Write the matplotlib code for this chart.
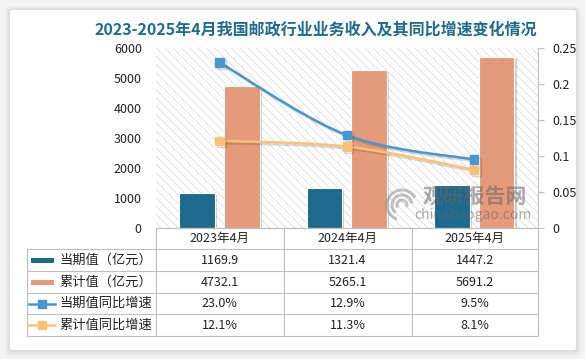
import matplotlib
matplotlib.use("Agg")
import matplotlib.pyplot as plt
import numpy as np
from matplotlib.transforms import Affine2D
from matplotlib.patches import Rectangle, FancyBboxPatch, Arc
from matplotlib.lines import Line2D
import matplotlib.patheffects as pe

plt.rcParams['font.family'] = ['Noto Sans CJK SC', 'DejaVu Sans']
plt.rcParams['hatch.linewidth'] = 0.6

# ---------------- data ----------------
categories = ["2023年4月", "2024年4月", "2025年4月"]
current_vals = [1169.9, 1321.4, 1447.2]
cumulative_vals = [4732.1, 5265.1, 5691.2]
current_yoy = [0.230, 0.129, 0.095]
cumulative_yoy = [0.121, 0.113, 0.081]
current_yoy_lbl = ["23.0%", "12.9%", "9.5%"]
cumulative_yoy_lbl = ["12.1%", "11.3%", "8.1%"]
series_names = ["当期值（亿元）", "累计值（亿元）", "当期值同比增速", "累计值同比增速"]
left_ticks = [0, 1000, 2000, 3000, 4000, 5000, 6000]
right_ticks = [0, 0.05, 0.1, 0.15, 0.2, 0.25]
right_tick_lbl = ["0", "0.05", "0.1", "0.15", "0.2", "0.25"]
title = "2023-2025年4月我国邮政行业业务收入及其同比增速变化情况"

C_BLUE = "#1C6A8E"
C_SALMON = "#E59A7A"
C_LBLUE = "#4896CF"
C_ORANGE = "#FFC077"
C_GRID = "#BFBFBF"
C_TEXT = "#222222"

W, H = 585, 359
fig = plt.figure(figsize=(W / 100, H / 100), dpi=100)
fig.patch.set_facecolor("#F3F3F3")
T = Affine2D().scale(1, -1).translate(0, H)  # pixel coords, origin top-left

# card with soft shadow
for i in range(8, 0, -1):
    fig.add_artist(FancyBboxPatch((10 - i * 0.6, 10 - i * 0.4), 566 + i * 1.2, 340 + i * 1.2,
                                  boxstyle="round,pad=0,rounding_size=3", transform=T,
                                  facecolor="black", alpha=0.012, lw=0, zorder=-10))
fig.add_artist(FancyBboxPatch((10, 10), 566, 340, boxstyle="round,pad=0,rounding_size=2",
                              transform=T, facecolor="white", lw=0, zorder=-9))

# title
fig.text(316, 29, title, transform=T, ha="center", va="center", fontsize=11.5,
         fontweight="bold", color="#1F6B8E")

# axes
L, R, TOP, BOT = 155.7, 538.0, 48.0, 228.0
ax = fig.add_axes([L / W, 1 - BOT / H, (R - L) / W, (BOT - TOP) / H])
ax.set_facecolor("none")
ax.add_patch(Rectangle((0, 0), 1, 1, transform=ax.transAxes, facecolor="white",
                       edgecolor="#DCDCDC", hatch="\\\\\\\\", lw=0, zorder=0))
x = np.arange(len(categories))
ax.set_xlim(-0.5, len(categories) - 0.5)
ax.set_ylim(0, 6000)
shadow = [pe.SimplePatchShadow(offset=(1.5, -1.5), shadow_rgbFace="#000000", alpha=0.18), pe.Normal()]
ax.bar(x - 0.175, current_vals, 0.28, color=C_BLUE, edgecolor="white", lw=0.8, zorder=2,
       path_effects=shadow)
ax.bar(x + 0.175, cumulative_vals, 0.28, color=C_SALMON, edgecolor="white", lw=0.8, zorder=2,
       path_effects=shadow)
ax.set_yticks(left_ticks)
ax.set_xticks([])
ax.tick_params(axis="y", length=0, pad=10, labelsize=9, labelcolor=C_TEXT)
for s in ["left", "top", "right"]:
    ax.spines[s].set_visible(False)
ax.spines["bottom"].set_color(C_GRID)
ax.spines["bottom"].set_linewidth(0.8)

ax2 = ax.twinx()
ax2.set_ylim(0, 0.25)
ax2.set_yticks(right_ticks)
ax2.set_yticklabels(right_tick_lbl)
ax2.tick_params(axis="y", length=4, width=0.8, color=C_GRID, pad=6, labelsize=9, labelcolor=C_TEXT)
for s in ["left", "top", "bottom"]:
    ax2.spines[s].set_visible(False)
ax2.spines["right"].set_color(C_GRID)
ax2.spines["right"].set_linewidth(0.8)


def smooth(xs, ys, sx, sy, n=40):
    # Catmull-Rom rendering of the polyline in pixel-proportional space
    P = np.column_stack([np.asarray(xs, float) * sx, np.asarray(ys, float) * sy])
    P = np.vstack([P[0], P, P[-1]])
    out = []
    for i in range(1, len(P) - 2):
        p0, p1, p2, p3 = P[i - 1], P[i], P[i + 1], P[i + 2]
        c1 = p1 + (p2 - p0) / 6
        c2 = p2 - (p3 - p1) / 6
        t = np.linspace(0, 1, n)[:, None]
        seg = (1 - t) ** 3 * p1 + 3 * (1 - t) ** 2 * t * c1 + 3 * (1 - t) * t ** 2 * c2 + t ** 3 * p2
        out.append(seg if i == 1 else seg[1:])
    out = np.vstack(out)
    return out[:, 0] / sx, out[:, 1] / sy


sx = (R - L) / 3.0
sy = (BOT - TOP) / 0.25
lshadow = [pe.SimpleLineShadow(offset=(1.5, -1.5), alpha=0.15), pe.Normal()]
for vals, col in [(current_yoy, C_LBLUE), (cumulative_yoy, C_ORANGE)]:
    xs, ys = smooth(x, vals, sx, sy)
    ax2.plot(xs, ys, color=col, lw=1.8, zorder=3, path_effects=lshadow, solid_capstyle="round")
    ax2.plot(x, vals, "s", ms=6, color=col, zorder=4, path_effects=lshadow)

# watermark
fig.text(423, 196, "观研报告网", transform=T, ha="left", va="center", fontsize=15,
         fontweight="bold", color="#666666", alpha=0.55, zorder=5)
fig.text(473, 215, "chinabaogao.com", transform=T, ha="center", va="center", fontsize=10,
         color="#666666", alpha=0.55, zorder=5)
for r, a1, a2 in [(15, 110, 330), (10, 130, 350), (5, 150, 380)]:
    fig.add_artist(Arc((402, 205), 2 * r, 2 * r, theta1=a1, theta2=a2, transform=T,
                       color="#888888", alpha=0.5, lw=2.2, zorder=5))

# table
cols = [L, 283.6, 411.6, R]
rows = [228, 249, 271, 293, 314.3, 336.3]
TL = 26.7
lw = 0.8
def hline(y, x0, x1):
    fig.add_artist(Line2D([x0, x1], [y, y], transform=T, color=C_GRID, lw=lw))
def vline(xp, y0, y1):
    fig.add_artist(Line2D([xp, xp], [y0, y1], transform=T, color=C_GRID, lw=lw))

hline(rows[0], L, R)
for y in rows[1:]:
    hline(y, TL, R)
for xp in cols:
    vline(xp, rows[0], rows[-1])
vline(TL, rows[1], rows[-1])

centers = [(cols[i] + cols[i + 1]) / 2 for i in range(3)]
ymid = [(rows[i] + rows[i + 1]) / 2 for i in range(5)]
for cx, lab in zip(centers, categories):
    fig.text(cx, ymid[0], lab, transform=T, ha="center", va="center", fontsize=9, color=C_TEXT)

row_vals = [[f"{v:.1f}" for v in current_vals], [f"{v:.1f}" for v in cumulative_vals],
            current_yoy_lbl, cumulative_yoy_lbl]
for ri, vals in enumerate(row_vals):
    for cx, v in zip(centers, vals):
        fig.text(cx, ymid[ri + 1], v, transform=T, ha="center", va="center", fontsize=9, color=C_TEXT)
    fig.text(59, ymid[ri + 1], series_names[ri], transform=T, ha="left", va="center",
             fontsize=9.5, color=C_TEXT)

# legend keys
for ri, col in enumerate([C_BLUE, C_SALMON]):
    fig.add_artist(Rectangle((31, ymid[ri + 1] - 2.5), 23, 5, transform=T, facecolor=col, lw=0))
for ri, col in [(2, C_LBLUE), (3, C_ORANGE)]:
    fig.add_artist(Line2D([29, 55], [ymid[ri + 1]] * 2, transform=T, color=col, lw=1.8))
    fig.add_artist(Line2D([42], [ymid[ri + 1]], transform=T, color=col, marker="s", ms=5.5, lw=0))

fig.savefig("out.png", dpi=100, facecolor=fig.get_facecolor())
